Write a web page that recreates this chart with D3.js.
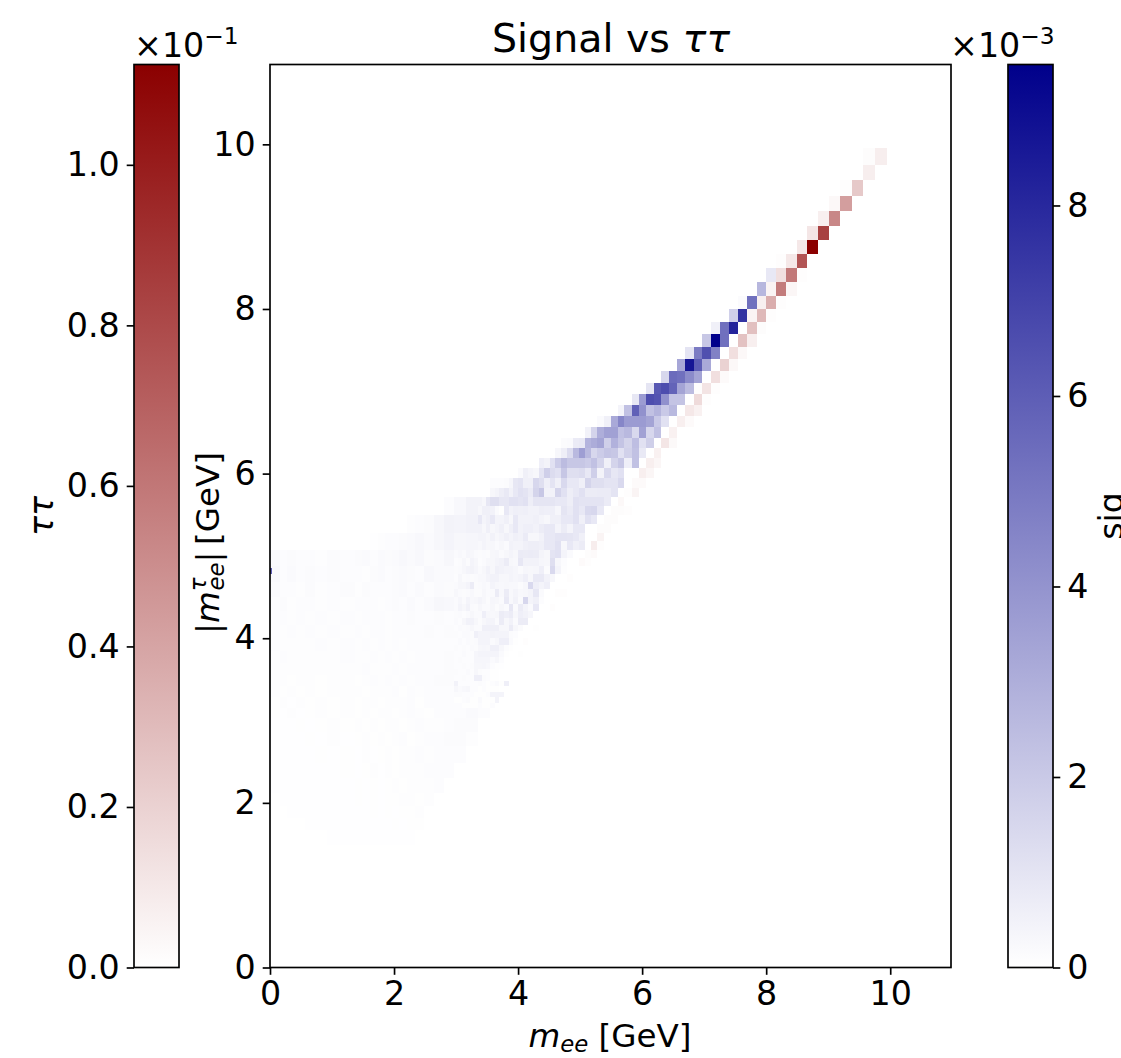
<!DOCTYPE html>
<html><head><meta charset="utf-8">
<script src="https://cdn.jsdelivr.net/npm/d3@7"></script>
<style>
html,body{margin:0;padding:0;background:#fff;overflow:hidden}
svg{display:block}
text{font-family:"DejaVu Sans";fill:#000}
.tick text{font-family:"DejaVu Sans";font-size:33.3px;fill:#000}
.tick line,.domain{stroke:#000;stroke-width:1.67px}
</style></head><body>
<script>
// ---- axis ticks ----
const xTicks = [0,2,4,6,8,10];
const yTicks = [0,2,4,6,8,10];
const tauTicks = [0,0.2,0.4,0.6,0.8,1.0];
const sigTicks = [0,2,4,6,8];
const tauMax = 1.125;   // x 10^-1
const sigMax = 9.48;    // x 10^-3
const axisMax = [10.98,10.97];
// ---- log-spaced histogram bins: edge(k) GeV, k counts down from the top edge ----
const topEdge = 9.95, logStep = 0.0198;
const edge = k => topEdge*Math.exp(-logStep*k);

// [row k, left-most column k, values going right]
const sigRows = [
[8,10,[.85]],[9,11,[2.68]],[10,13,[.15,5.3]],[11,14,[1.75,7.6]],[12,16,[.55,5.3,8.15]],
[13,17,[2.1,9.48,5.3]],[14,19,[1.0,4.9,6.5,4.7]],[15,20,[3.3,8.7,6.05,3.2]],
[16,22,[1.5,5.5,5.3,4.3,3.4]],[17,24,[.95,6.2,6.6,5.8,3.4,2.5]],
[18,26,[.9,3.7,6.6,6.4,4.1,2.2,2.2]],[19,28,[.4,2.3,5.9,4.1,2.3,2.8,2.0,2.6]],
[20,31,[.2,.55,3.2,4.5,3.7,3.7,3.7,3.4,2.0,1.1]],
[21,33,[.5,1.6,3.0,3.5,3.5,2.3,2.6,1.4,3.5,1.5,2.3]],
[22,37,[.15,.2,.75,.8,2.8,3.1,3.4,1.8,2.9,2.2,1.6,2.4,1.1,1.8]],
[23,38,[.3,.65,1.3,2.6,3.6,2.6,1.5,1.9,2.2,2.1,1.1,1.7,2.3,.8]],
[24,41,[.6,.45,1.1,1.9,2.5,2.1,2.1,2.1,1.9,2.3,1.6,.55,1.6,2.1,.6,2.3]],
[25,45,[.2,.55,.4,.3,1.0,1.8,1.3,1.1,2.1,1.2,1.2,1.3,.85,1.8,.45,1.4,.9,1.1]],
[26,51,[.1,.1,.1,.15,.35,.9,1.0,.55,.55,1.5,1.2,.6,1.0,.55,1.4,.85,.85,.55,1.6,1.2,1.2,1.0,1.0,1.4]],
[27,51,[.3,.4,.65,.8,.5,.85,1.1,1.0,.75,1.6,2.1,.5,.5,1.6,1.1,.65,.85,1.1,.7,.7,.75,.75,1.0]],
[28,54,[.45,.3,.9,1.2,1.2,.9,.9,1.1,1.1,1.0,1.1,.65,.95,.95,.95,.95,.85,.85,.65,1.1,1.0,1,1,1,.75]],
[29,54,[.3,.55,.55,.5,.2,.05,.85,.5,.6,.55,.6,.5,.5,.65,.6,.6,.35,.95,.75,1.1,.85,1.4,1.5,.85]],
[30,54,[.85,.4,.55,.85,.4,.4,.55,.3,.85,.5,.5,.5,.55,.4,.3,.55,.55,.85,.85,1.1,.55,1.1,.85]],
[31,54,[.5,.3,.55,.3,.4,.55,.3,.55,.85,.5,.6,.6,.5,.7,.85,.85,.4,.7,.4,.85,.85]],
[32,54,[.4,.4,.3,.5,.3,.4,.55,.4,.55,.5,.75,.3,.3,.5,.85,.85,1.0,1.0,.95,.85,.55]],
[33,54,[.25,.4,.3,.3,.2,.3,.2,.5,.4,.4,.55,.65,.65,.55,.85,.85,1.1,.3,.85,.55,.7]],
[34,60,[.2,.25,.2,.35,.3,.2,.15,.2,.15,.3,.35,.2,.3,.4,.3,.75,.7,.75,.7,.4,.3,1.0,1.1,.4,.2]],
[35,60,[.1,.15,.3,.15,.4,.3,.1,.2,.3,.3,.4,.5,.7,.3,.25,.9,.5,.5,.5,.35,.3,1.2,.3,.1]],
[36,60,[.15,.2,.3,.4,.45,.35,.2,.3,.5,.3,.55,.5,.4,.4,.35,.2,.35,.3,.35,.6,.15,1.4,.4,.08]],
[37,60,[.1,.3,.15,.2,.15,.2,.25,.25,.4,.5,.5,.3,.3,.4,.35,.4,.6,.3,.8,.8,.5,.3]],
[38,60,[.2,.3,.3,.4,.7,.15,.2,.25,.2,.4,.3,.25,.3,.25,.25,.15,.3,1.4,.6,.4,.6]],
[39,60,[.3,.2,.15,.2,.25,.15,.15,.3,.2,.2,.7,.25,.7,.25,.4,.25,.3,.4,.9,.2]],
[40,60,[.2,.35,.2,.4,.25,.3,.4,.3,.15,.35,.3,.2,.8,.25,.5,.2,1.5,.4,.55,.1]],
[41,60,[.2,.4,.3,.5,.2,.15,.3,.2,.2,.3,.15,.3,.2,.9,.2,.7,.4,.2,.85]],
[42,60,[.15,.2,.1,.2,.3,.2,.2,.6,.3,.25,.3,.7,.6,.7,.3,.6,.5,.35]],
[43,60,[.2,.1,.3,.5,.5,.3,.15,.3,.4,.4,.2,.7,.3,.5,.2,.7,.7]],
[44,60,[.1,.2,.15,.2,.3,.2,.2,.55,.55,.55,.55,.3,.3,.7,.3,.15]],
[45,60,[.15,.1,.2,.2,.15,.55,.4,.4,.4,.45,.4,.4,.4,.15,.1]],
[46,60,[.1,.2,.1,.2,.15,.2,.4,.4,.4,.2,.3,.6,.6,.2,.05]],
[47,60,[.15,.1,.15,.1,.2,.15,.3,.35,.3,.55,.55,.3,.1,.05]],
[48,60,[.1,.1,.2,.1,.1,.35,.4,.4,.4,.4,.4,.2,.05]],
[49,60,[.1,.15,.1,.1,.1,.35,.35,.35,.35,.2,.3,.1]],
[50,60,[.1,.1,.15,.1,.15,.3,.3,.35,.25,.1,.05,.02]],
[51,60,[.15,.1,.1,.2,.1,.3,.15,.1,.1,.05,.05]],
[52,60,[.1,.1,.15,.1,.1,.6,.6,.15,.1,.05,.05]],
[53,60,[.5,.1,.1,.1,.1,.1,.15,.1,.05,.1,.2,.05,.6]],
[54,60,[.3,.2,.25,.3,.1,.1,.05,.1,.05,.05,.05]],
[55,60,[.15,.15,.1,.1,.1,.05,.05,.05,.1,.4,.4,.4]],
[56,60,[.05,.05,.1,.15,.05,.05,.2,.05,.05,.05,.4]],
[57,60,[.1,.1,.05,.05,.05,.05,.1,.05,.05,.1]]
];
const tauRows = [
[0,1,[.015,.075]],[1,1,[.075]],[2,3,[.01,.24]],[3,4,[.03,.43]],[4,5,[.07,.53]],[5,6,[.11,.84]],
[6,7,[.1,1.125]],[7,9,[.01,.1,.75]],[8,9,[.14,.59,.01]],[9,10,[.05,.58,.04]],[10,11,[.07,.36,.01]],
[11,12,[.05,.31,.01]],[12,12,[.28,.015]],[13,13,[.27,.07]],[14,14,[.14,.03]],[15,15,[.2,.03]],
[16,16,[.14,.02]],[17,18,[.01,.12,.01]],[18,18,[.16,.01]],[19,19,[.1,.06]],[20,20,[.07,.02]],
[21,21,[.06]],[22,22,[.11,.025]],[23,23,[.06]],[24,24,[.07,.04]],[25,25,[.07,.04]],[26,26,[.02,.02]],
[27,27,[.01,.05]],[28,28,[.03]],[29,29,[.015,.015,.01]],[30,30,[.015,.015]],[31,31,[.015,.015]],
[32,31,[.05]],[33,32,[.08,.01]],[34,33,[.015,.02]],[35,34,[.02,.01]],
[37,36,[.01]],[39,38,[.01,.01]],[41,39,[.008]],[44,42,[.006]],[46,44,[.008]],[48,45,[.006]]
];
const bandK = [600,210,180,160,145,132,120,110,100,96,92,88,85,82,79,76,73,70,67,64,61,58,55,52,49,46,43,40,37,34];
// [top k, bottom k, first band, values going right]
const faintRows = [
[28,30,19,[.1,.25,.45]],
[30,32,15,[.06,.1,.15,.3,.45,.4,.5]],
[32,34,10,[.04,.06,.1,.1,.15,.2,.25,.2,.3,.4,.3,.35]],
[34,36,0,[.2,.12,.15,.1,.12,.08,.15,.1,.15,.2,.12,.2,.15,.2,.25,.2,.25,.15,.2,.3]],
[36,38,0,[.25,.12,.18,.1,.15,.1,.15,.12,.12,.08,.15,.2,.12,.15,.2,.15,.12,.25,.2,.2]],
[38,40,0,[.18,.12,.12,.08,.15,.08,.1,.15,.08,.15,.1,.12,.1,.15,.18,.12,.18,.12,.2,.15]],
[40,42,0,[.12,.15,.08,.12,.1,.08,.12,.08,.1,.1,.12,.08,.12,.15,.1,.18,.12,.18,.3,.25]],
[42,44,0,[.12,.1,.08,.1,.08,.12,.08,.1,.08,.12,.1,.1,.08,.12,.12,.15,.1,.12,.15,.12]],
[44,46,0,[.12,.08,.1,.08,.1,.08,.1,.08,.12,.08,.1,.12,.08,.1,.12,.1,.12,.15,.12,.15]],
[46,48,0,[.1,.08,.08,.06,.08,.1,.08,.1,.08,.1,.08,.1,.08,.12,.08,.12,.1,.12,.12,.12]],
[48,50,0,[.08,.1,.06,.08,.06,.08,.06,.1,.08,.06,.1,.08,.1,.08,.12,.08,.12,.1,.12,.15]],
[50,52,0,[.08,.06,.06,.06,.08,.06,.08,.06,.08,.1,.06,.08,.08,.1,.08,.12,.1,.12,.1,.15]],
[52,54,0,[.06,.06,.05,.06,.06,.05,.06,.06,.05,.08,.1,.06,.1,.06,.1,.08,.1,.12,.15,.15]],
[54,56,0,[.06,.05,.06,.05,.06,.05,.06,.08,.06,.05,.06,.08,.06,.1,.05,.1,.08,.1,.12,.12]],
[56,58,0,[.05,.06,.04,.06,.05,.06,.05,.06,.05,.08,.06,.05,.08,.06,.08,.1,.05,.1,.1,.12]],
[58,60,0,[.05,.04,.06,.04,.05,.06,.05,.06,.05,.06,.05,.08,.06,.05,.06,.1,.08,.05,.1,.1,.12,.2,.1]],
[60,63,0,[.04,.04,.04,.05,.04,.05,.06,.05,.06,.05,.06,.05,.06,.08,.05,.06,.1,.08,.06,.1,.15,.15]],
[63,66,0,[.04,.04,.04,.04,.05,.04,.06,.04,.05,.06,.05,.06,.05,.06,.1,.05,.06,.1,.1,.15,.15,.08]],
[66,70,0,[.03,.04,.04,.04,.04,.05,.04,.05,.04,.06,.04,.05,.06,.05,.06,.06,.1,.06,.1,.1,.12]],
[70,74,0,[.02,.04,.03,.04,.04,.04,.04,.05,.04,.05,.06,.04,.06,.05,.06,.06,.06,.1,.1,.1]],
[74,78,0,[.02,.03,.03,.03,.04,.03,.04,.04,.05,.04,.05,.04,.05,.06,.05,.06,.06,.08,.1]],
[78,82,0,[.01,.03,.03,.03,.03,.03,.04,.03,.05,.04,.05,.04,.05,.05,.06,.06,.05,.08]],
[82,86,2,[.02,.02,.03,.03,.03,.03,.04,.04,.05,.04,.05,.04,.05,.05,.06]],
[86,90,4,[.02,.02,.03,.03,.03,.04,.03,.04,.04,.05,.04,.05,.05]],
[90,96,6,[.02,.02,.02,.03,.03,.03,.03,.03,.03,.03]]
];
// thin bright bin right against the y axis: [xLow, xHigh, yLow, yHigh, value]
const sigSliver = [0,0.035,4.78,4.85,6];

// ---- layout ----
const W=1121,H=1058;
const L=270,R=951,T=64.5,B=967.5;
const svg=d3.select("body").append("svg").attr("width",W).attr("height",H);
const x=d3.scaleLinear().domain([0,axisMax[0]]).range([L,R]);
const y=d3.scaleLinear().domain([0,axisMax[1]]).range([B,T]);
const tauColor=d3.scaleLinear().domain([0,tauMax]).range(["#ffffff","#8b0000"]);
const sigColor=d3.scaleLinear().domain([0,sigMax]).range(["#ffffff","#00008b"]);

const cells=[];
faintRows.forEach(([t,b,s,vals])=>vals.forEach((v,i)=>cells.push(
  {x0:edge(bandK[s+i]),x1:edge(bandK[s+i+1]),y0:edge(b),y1:edge(t),c:sigColor(v)})));
sigRows.forEach(([r,c,vals])=>vals.forEach((v,i)=>cells.push(
  {x0:edge(c-i+1),x1:edge(c-i),y0:edge(r+1),y1:edge(r),c:sigColor(v)})));
tauRows.forEach(([r,c,vals])=>vals.forEach((v,i)=>cells.push(
  {x0:edge(c-i+1),x1:edge(c-i),y0:edge(r+1),y1:edge(r),c:tauColor(v)})));
cells.push({x0:sigSliver[0],x1:sigSliver[1],y0:sigSliver[2],y1:sigSliver[3],c:sigColor(sigSliver[4])});

svg.append("g").attr("shape-rendering","crispEdges").selectAll("rect").data(cells).join("rect")
  .attr("x",d=>x(d.x0)).attr("width",d=>x(d.x1)-x(d.x0))
  .attr("y",d=>y(d.y1)).attr("height",d=>y(d.y0)-y(d.y1))
  .attr("fill",d=>d.c);

// main frame + axes
svg.append("rect").attr("x",L).attr("y",T).attr("width",R-L).attr("height",B-T)
  .attr("fill","none").attr("stroke","#000").attr("stroke-width",1.67);
const axB=svg.append("g").attr("transform",`translate(0,${B})`)
  .call(d3.axisBottom(x).tickValues(xTicks).tickFormat(d3.format("d")).tickSize(7.3).tickPadding(7));
const axL=svg.append("g").attr("transform",`translate(${L},0)`)
  .call(d3.axisLeft(y).tickValues(yTicks).tickFormat(d3.format("d")).tickSize(7.3).tickPadding(7));
axB.select(".domain").remove(); axL.select(".domain").remove();

// colour bars
const defs=svg.append("defs");
function bar(id,x0,x1,color,max,ticks,fmt,side){
  const g=defs.append("linearGradient").attr("id",id).attr("x1",0).attr("x2",0).attr("y1",1).attr("y2",0);
  g.append("stop").attr("offset",0).attr("stop-color",color(0));
  g.append("stop").attr("offset",1).attr("stop-color",color(max));
  svg.append("rect").attr("x",x0).attr("y",T).attr("width",x1-x0).attr("height",B-T)
    .attr("fill",`url(#${id})`).attr("stroke","#000").attr("stroke-width",1.67);
  const s=d3.scaleLinear().domain([0,max]).range([B,T]);
  const ax=side==="left"?d3.axisLeft(s):d3.axisRight(s);
  const a=svg.append("g").attr("transform",`translate(${side==="left"?x0:x1},0)`)
    .call(ax.tickValues(ticks).tickFormat(fmt).tickSize(7.3).tickPadding(7));
  a.select(".domain").remove();
}
bar("gt",134,179,tauColor,tauMax,tauTicks,d3.format(".1f"),"left");
bar("gs",1008,1053,sigColor,sigMax,sigTicks,d3.format("d"),"right");

// texts
function rich(sel,parts){
  parts.forEach(p=>{
    const t=sel.append("tspan").text(p.t);
    if(p.i) t.attr("font-style","italic");
    if(p.s) t.attr("font-size",p.s);
    if(p.dy) t.attr("dy",p.dy);
    if(p.dx) t.attr("dx",p.dx);
  });
}
const title=svg.append("text").attr("x",611).attr("y",52).attr("text-anchor","middle").attr("font-size",39.5);
rich(title,[{t:"Signal vs "},{t:"ττ",i:1}]);

const xl=svg.append("text").attr("x",610).attr("y",1047).attr("text-anchor","middle").attr("font-size",32.6);
rich(xl,[{t:"m",i:1},{t:"ee",i:1,s:22.8,dy:5},{t:" [GeV]",dy:-5}]);

const yl=svg.append("text").attr("transform","translate(219,543) rotate(-90)").attr("text-anchor","middle").attr("font-size",32.6);
rich(yl,[{t:"|"},{t:"m",i:1},{t:"τ",i:1,s:22.8,dy:-13},{t:"ee",i:1,s:22.8,dy:18,dx:-13},{t:"|",dy:-5},{t:" [GeV]",dx:-4}]);

svg.append("text").attr("transform","translate(53,516) rotate(-90)").attr("text-anchor","middle").attr("font-size",33.3)
  .attr("font-style","italic").text("ττ");
svg.append("text").attr("transform","translate(1123,516) rotate(-90)").attr("text-anchor","middle").attr("font-size",33.3).text("sig");

function offset(xp,exp){
  const t=svg.append("text").attr("x",xp).attr("y",57).attr("font-size",33.3);
  rich(t,[{t:"×10"},{t:"−"+exp,s:23.3,dy:-13}]);
}
offset(134,"1");
offset(950,"3");
</script>
</body></html>
